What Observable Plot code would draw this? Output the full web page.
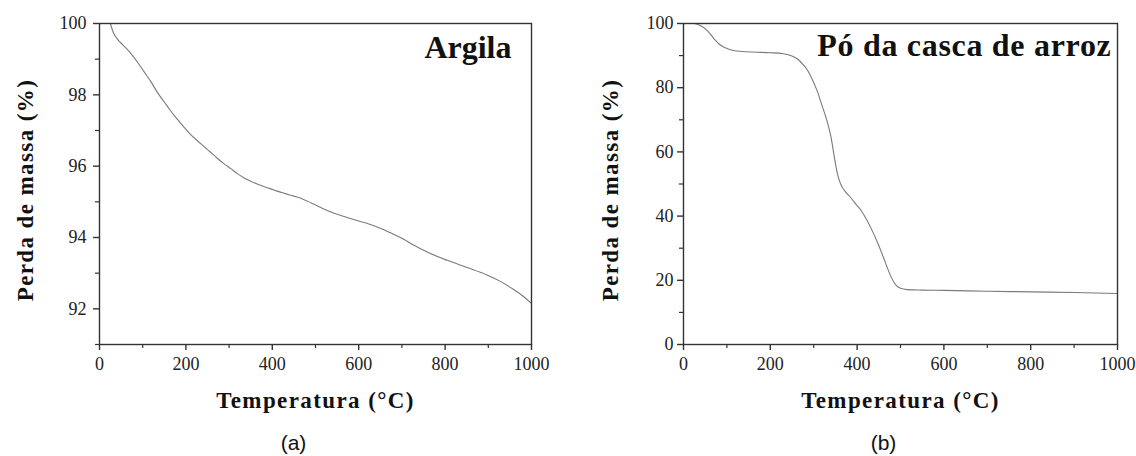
<!DOCTYPE html>
<html>
<head>
<meta charset="utf-8">
<script src="https://cdn.jsdelivr.net/npm/d3@7"></script>
<script src="https://cdn.jsdelivr.net/npm/@observablehq/plot@0.6"></script>
<style>
  html, body { margin: 0; padding: 0; background: #fff; }
  #wrap { display: flex; width: 1136px; height: 456px; }
  #wrap > svg { flex: none; }
</style>
</head>
<body>
<div id="wrap"></div>
<script>
// ---- Data ----
const argilaTemp = [25, 32, 41, 55, 72, 90, 103, 120, 134, 150, 164, 180, 195, 210, 226, 242, 257, 272, 288, 304, 319, 335, 350, 365, 380, 395, 411, 430, 450, 470, 490, 519, 545, 573, 600, 620, 650, 674, 700, 728, 766, 805, 851, 897, 928, 959, 980, 1000];
const argilaMass = [100, 99.75, 99.57, 99.39, 99.17, 98.88, 98.65, 98.35, 98.07, 97.8, 97.56, 97.32, 97.1, 96.9, 96.72, 96.55, 96.39, 96.23, 96.07, 95.93, 95.79, 95.67, 95.58, 95.5, 95.43, 95.37, 95.3, 95.23, 95.16, 95.08, 94.97, 94.8, 94.67, 94.56, 94.46, 94.39, 94.26, 94.13, 93.98, 93.78, 93.55, 93.36, 93.16, 92.95, 92.77, 92.54, 92.36, 92.15];

const cascaTemp = [25, 40, 55, 70, 85, 100, 115, 135, 160, 200, 230, 250, 262, 275, 285, 297, 308, 319, 331, 340, 348, 355, 362, 372, 385, 398, 410, 423, 435, 447, 460, 470, 480, 490, 500, 515, 550, 600, 700, 800, 900, 1000];
const cascaMass = [100, 99.3, 97.8, 95.3, 93.3, 92.2, 91.6, 91.3, 91.1, 90.9, 90.6, 89.9, 89.0, 87.3, 85.6, 82.5, 79.0, 74.5, 69.5, 64.5, 58.0, 53.0, 50.0, 47.8, 45.8, 43.6, 41.6, 38.6, 35.4, 31.8, 27.4, 23.8, 20.6, 18.4, 17.5, 17.1, 16.95, 16.85, 16.6, 16.4, 16.2, 15.9];

const xMajor = [0, 200, 400, 600, 800, 1000];
const xMinor = [100, 300, 500, 700, 900];
const argilaYMajor = [92, 94, 96, 98, 100];
const argilaYMinor = [91, 93, 95, 97, 99];
const cascaYMajor = [0, 20, 40, 60, 80, 100];
const cascaYMinor = [10, 30, 50, 70, 90];

const xTitle = "Temperatura (°C)";
const yTitle = "Perda de massa (%)";
const panelTitles = ["Argila", "Pó da casca de arroz"];
const captions = ["(a)", "(b)"];

const serif = "'Liberation Serif', 'Times New Roman', serif";
const sans = "'Liberation Sans', Arial, sans-serif";

function panel(o) {
  const data = o.temp.map((t, i) => ({t, m: o.mass[i]}));
  return Plot.plot({
    width: 568,
    height: 456,
    marginLeft: o.marginLeft,
    marginRight: o.marginRight,
    marginTop: 23,
    marginBottom: 112,
    style: {fontFamily: serif, fontSize: "18px", color: "#222", overflow: "visible", background: "#fff"},
    x: {domain: [0, 1000], axis: null},
    y: {domain: o.yDomain, axis: null},
    marks: [
      Plot.line(data, {x: "t", y: "m", stroke: "#7a7a7a", strokeWidth: 1.1, curve: "monotone-x"}),
      Plot.frame({stroke: "#333", strokeWidth: 1.4}),
      Plot.axisX(xMajor, {tickSize: 6, tickPadding: 7, tickFormat: "d", fontSize: 18, fontFamily: serif, fill: "#222", label: null, stroke: "#333", strokeWidth: 1.4}),
      Plot.axisX(xMinor, {tickSize: 4, text: null, label: null, stroke: "#333", strokeWidth: 1.2}),
      Plot.axisY(o.yMajor, {tickSize: 6, tickPadding: o.yPad, tickFormat: "d", fontSize: 18, fontFamily: serif, fill: "#222", label: null, stroke: "#333", strokeWidth: 1.4}),
      Plot.axisY(o.yMinor, {tickSize: 4, text: null, label: null, stroke: "#333", strokeWidth: 1.2}),
      Plot.text([o.title], {text: d => d, frameAnchor: "top-right", dx: o.titleDx, dy: o.titleDy, textAnchor: "end", lineAnchor: "bottom", fontSize: 32, fontWeight: "bold", fontFamily: serif, fill: "#111"}),
      Plot.text([xTitle], {text: d => d, frameAnchor: "bottom", dy: 56, textAnchor: "middle", lineAnchor: "middle", fontSize: 23, fontWeight: "bold", fontFamily: serif, fill: "#111"}),
      Plot.text([yTitle], {text: d => d, frameAnchor: "left", rotate: -90, dx: o.yTitleDx, dy: 6, textAnchor: "middle", lineAnchor: "middle", fontSize: 23, fontWeight: "bold", fontFamily: serif, fill: "#111"}),
      Plot.text([o.caption], {text: d => d, frameAnchor: "bottom", dx: o.capDx, dy: 99, textAnchor: "middle", lineAnchor: "middle", fontSize: 21, fontFamily: sans, fill: "#111"})
    ]
  });
}

const wrap = document.getElementById("wrap");
wrap.append(panel({
  temp: argilaTemp, mass: argilaMass, yDomain: [91, 100],
  yMajor: argilaYMajor, yMinor: argilaYMinor, yPad: 7,
  marginLeft: 99, marginRight: 37,
  title: panelTitles[0], titleDx: -20, titleDy: 34,
  yTitleDx: -74, caption: captions[0], capDx: -22
}));
wrap.append(panel({
  temp: cascaTemp, mass: cascaMass, yDomain: [0, 100],
  yMajor: cascaYMajor, yMinor: cascaYMinor, yPad: 4,
  marginLeft: 115, marginRight: 19,
  title: panelTitles[1], titleDx: -6, titleDy: 32,
  yTitleDx: -73, caption: captions[1], capDx: -17
}));

// enforce fonts and letter spacing as in the reference
d3.selectAll("#wrap text").each(function() {
  const t = this.textContent;
  if (captions.includes(t)) {
    this.style.fontFamily = sans;
  } else {
    this.style.fontFamily = serif;
  }
  if (t === xTitle || t === yTitle) this.setAttribute("letter-spacing", "1.4px");
  if (t === panelTitles[1]) this.setAttribute("letter-spacing", "0.7px");
});
</script>
</body>
</html>
